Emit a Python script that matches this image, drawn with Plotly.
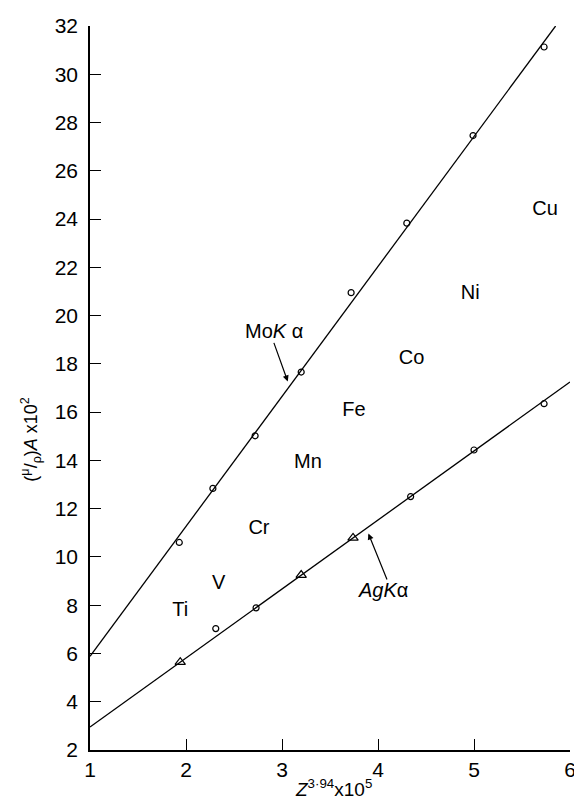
import plotly.graph_objects as go

# --- Data ---
mo_x = [1.93, 2.28, 2.72, 3.20, 3.72, 4.30, 4.99, 5.73]
mo_y = [10.6, 12.84, 15.02, 17.66, 20.95, 23.83, 27.46, 31.13]

ag_circle_x = [2.31, 2.73, 4.34, 5.00, 5.73]
ag_circle_y = [7.03, 7.89, 12.50, 14.43, 16.35]
ag_tri_x = [1.94, 3.20, 3.74]
ag_tri_y = [5.64, 9.25, 10.79]

mo_line_x = [1.0, 5.85]
mo_line_y = [5.88, 32.0]
ag_line_x = [1.0, 6.0]
ag_line_y = [2.95, 17.25]

elements = ["Ti", "V", "Cr", "Mn", "Fe", "Co", "Ni", "Cu"]
element_x = [1.94, 2.34, 2.76, 3.27, 3.75, 4.35, 4.96, 5.74]
element_y = [7.74, 8.86, 11.17, 13.9, 16.05, 18.2, 20.9, 24.36]

x_ticks = [1, 2, 3, 4, 5, 6]
y_ticks = [2, 4, 6, 8, 10, 12, 14, 16, 18, 20, 22, 24, 26, 28, 30, 32]

FONT = "Liberation Sans, Arial, Helvetica, sans-serif"

fig = go.Figure()

fig.add_trace(go.Scatter(x=mo_line_x, y=mo_line_y, mode="lines",
                         line=dict(color="black", width=1.3), showlegend=False))
fig.add_trace(go.Scatter(x=ag_line_x, y=ag_line_y, mode="lines",
                         line=dict(color="black", width=1.3), showlegend=False))
fig.add_trace(go.Scatter(x=mo_x, y=mo_y, mode="markers",
                         marker=dict(symbol="circle-open", size=6, color="black",
                                     line=dict(width=1.2)), showlegend=False))
fig.add_trace(go.Scatter(x=ag_circle_x, y=ag_circle_y, mode="markers",
                         marker=dict(symbol="circle-open", size=6, color="black",
                                     line=dict(width=1.2)), showlegend=False))
fig.add_trace(go.Scatter(x=ag_tri_x, y=ag_tri_y, mode="markers",
                         marker=dict(symbol="triangle-up-open", size=9, color="black",
                                     line=dict(width=1.2)), showlegend=False))

fig.add_trace(go.Scatter(x=element_x, y=element_y, mode="text", text=elements,
                         textfont=dict(family=FONT, size=20, color="black"),
                         showlegend=False, cliponaxis=False))

# Line labels with arrows
fig.add_annotation(x=3.06, y=17.27, ax=2.91, ay=18.93, xref="x", yref="y",
                   axref="x", ayref="y", text="", showarrow=True,
                   arrowhead=2, arrowsize=1, arrowwidth=1.2, arrowcolor="black")
fig.add_annotation(x=2.92, y=19.36, xref="x", yref="y",
                   text="Mo<i>K</i> α", showarrow=False,
                   font=dict(family=FONT, size=20, color="black"))
fig.add_annotation(x=3.90, y=10.97, ax=4.10, ay=9.0, xref="x", yref="y",
                   axref="x", ayref="y", text="", showarrow=True,
                   arrowhead=2, arrowsize=1, arrowwidth=1.2, arrowcolor="black")
fig.add_annotation(x=4.05, y=8.65, xref="x", yref="y",
                   text="<i>Ag</i><i>K</i>α", showarrow=False,
                   font=dict(family=FONT, size=20, color="black"))

# Axis titles
fig.add_annotation(x=0.508, y=-0.053, xref="paper", yref="paper",
                   text="<i>Z</i><sup>3·94</sup>x10<sup>5</sup>", showarrow=False,
                   xanchor="center", yanchor="middle",
                   font=dict(family=FONT, size=19, color="black"))
fig.add_annotation(x=-0.123, y=0.43, xref="paper", yref="paper",
                   text="(<sup>μ</sup>/<sub>ρ</sub>)<i>A</i> x10<sup>2</sup>",
                   showarrow=False, textangle=-90,
                   xanchor="center", yanchor="middle",
                   font=dict(family=FONT, size=18, color="black"))

fig.update_xaxes(range=[1, 6], tickvals=x_ticks, ticktext=[str(v) for v in x_ticks],
                 ticks="inside", ticklen=11, tickwidth=1.2, tickcolor="black",
                 showline=True, linecolor="black", linewidth=1.5,
                 showgrid=False, zeroline=False,
                 tickfont=dict(family=FONT, size=21, color="black"))
fig.update_yaxes(range=[2, 32], tickvals=y_ticks, ticktext=[str(v) for v in y_ticks],
                 ticks="inside", ticklen=11, tickwidth=1.2, tickcolor="black",
                 showline=True, linecolor="black", linewidth=1.5,
                 showgrid=False, zeroline=False, ticklabelstandoff=6,
                 tickfont=dict(family=FONT, size=21, color="black"))

# The page places the figure 8px in from the top-left corner
fig.update_layout(width=574, height=795,
                  margin=dict(l=82, r=6, t=16, b=53),
                  paper_bgcolor="white", plot_bgcolor="white",
                  showlegend=False)

fig.write_html("out.html")
